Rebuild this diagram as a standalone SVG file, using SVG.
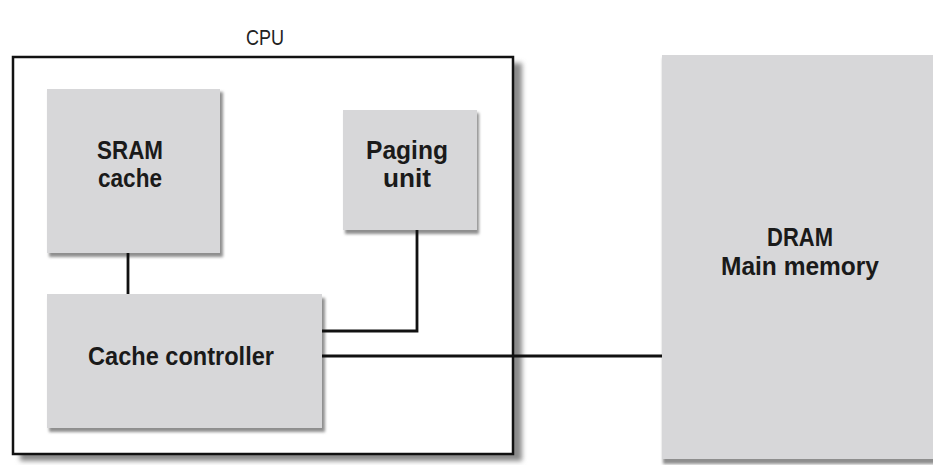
<svg xmlns="http://www.w3.org/2000/svg" width="933" height="465" viewBox="0 0 933 465">
<defs>
<filter id="blur" x="-10%" y="-10%" width="120%" height="120%"><feGaussianBlur stdDeviation="1.6"/></filter>
<filter id="blur2" x="-10%" y="-10%" width="120%" height="120%"><feGaussianBlur stdDeviation="2.5"/></filter>
</defs>
<style>
.box{fill:#d7d7d9}
.sh{fill:#8e8e8e;filter:url(#blur)}
.lbl{font-family:"Liberation Sans",Arial,sans-serif;font-weight:bold;font-size:25px;fill:#1a1a1a;text-anchor:middle}
.cpu{font-family:"Liberation Sans",Arial,sans-serif;font-size:22px;fill:#222;text-anchor:middle}
.ln{stroke:#111;stroke-width:2.8;fill:none}
</style>
<rect width="933" height="465" fill="#fff"/>
<g id="cpu">
<rect x="20" y="63" width="502" height="398" fill="#8a8a8a" filter="url(#blur2)"/>
<rect x="13" y="57" width="500" height="397" fill="#fff" stroke="#111" stroke-width="2.5"/>
<text class="cpu" x="265" y="45" textLength="38" lengthAdjust="spacingAndGlyphs">CPU</text>
</g>
<g id="sram">
<rect class="sh" x="49" y="92" width="174" height="165"/>
<rect class="box" x="47" y="89" width="173" height="164"/>
<text class="lbl" x="130" y="159" textLength="66" lengthAdjust="spacingAndGlyphs">SRAM</text>
<text class="lbl" x="130" y="187" textLength="64" lengthAdjust="spacingAndGlyphs">cache</text>
</g>
<g id="paging">
<rect class="sh" x="345" y="113" width="134" height="121"/>
<rect class="box" x="343" y="110" width="134" height="120"/>
<text class="lbl" x="407" y="159" textLength="82" lengthAdjust="spacingAndGlyphs">Paging</text>
<text class="lbl" x="407" y="187" textLength="48" lengthAdjust="spacingAndGlyphs">unit</text>
</g>
<g id="controller">
<rect class="sh" x="49" y="298" width="276" height="134"/>
<rect class="box" x="47" y="294" width="275" height="134"/>
<text class="lbl" x="181" y="365" textLength="186" lengthAdjust="spacingAndGlyphs">Cache controller</text>
</g>
<g id="dram">
<rect class="sh" x="663" y="58" width="275" height="406"/>
<rect class="box" x="662" y="55" width="275" height="404"/>
<text class="lbl" x="800" y="246" textLength="66" lengthAdjust="spacingAndGlyphs">DRAM</text>
<text class="lbl" x="800" y="275" textLength="158" lengthAdjust="spacingAndGlyphs">Main memory</text>
</g>
<g id="connectors">
<line class="ln" x1="128" y1="253" x2="128" y2="294"/>
<polyline class="ln" points="417,230 417,331 322,331"/>
<line class="ln" x1="322" y1="356" x2="662" y2="356"/>
</g>
</svg>
